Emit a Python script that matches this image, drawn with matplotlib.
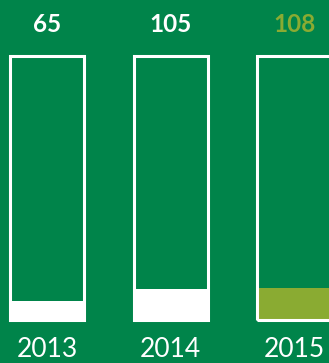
import matplotlib.pyplot as plt

years = ['2013', '2014', '2015']
values = [65, 105, 108]
scale_max = 900
fill_colors = ['white', 'white', '#8aab32']
label_colors = ['white', 'white', '#8aab32']

bg = '#00844a'
W, H = 329, 363

fig = plt.figure(figsize=(W / 100, H / 100), dpi=100, facecolor=bg)
# axes box goes from the bottom of the bars to their top
ax = fig.add_axes([0, (H - 320) / H, 1, (320 - 56) / H])
ax.set_facecolor(bg)

x = range(len(years))
ax.bar(x, values, width=0.6, color=fill_colors, linewidth=0)
ax.bar(x, [scale_max] * len(years), width=0.6, fill=False,
       edgecolor='white', linewidth=2.2, clip_on=False)

for i, (yr, v) in enumerate(zip(years, values)):
    ax.text(i, 1.118, str(v), transform=ax.get_xaxis_transform(),
            ha='center', va='center', fontsize=17.5, fontweight='bold',
            color=label_colors[i], family='Lato')
    ax.text(i, -0.113, yr, transform=ax.get_xaxis_transform(),
            ha='center', va='center', fontsize=19, fontweight='normal',
            color='white', family='Lato')

ax.set_xlim(-0.381, 2.283)
ax.set_ylim(0, scale_max)
ax.axis('off')

fig.savefig('out.png', dpi=100, facecolor=bg)
